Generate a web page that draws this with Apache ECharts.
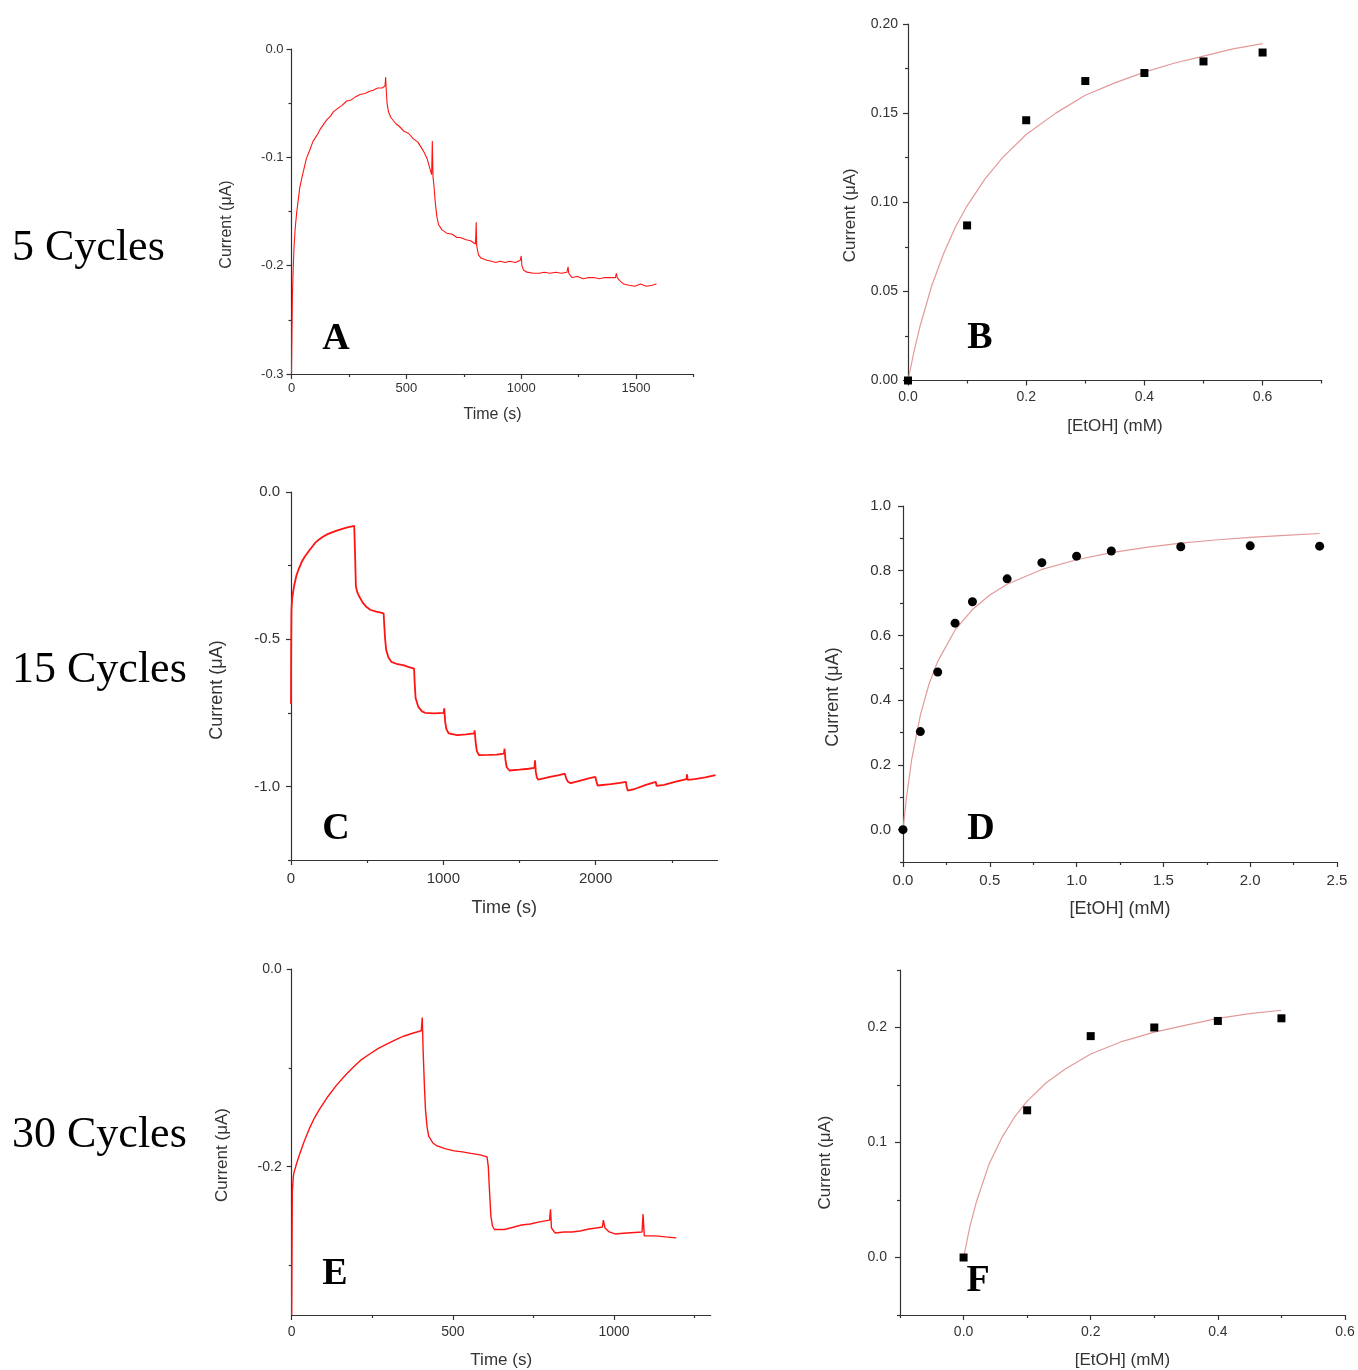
<!DOCTYPE html>
<html>
<head>
<meta charset="utf-8">
<script src="https://cdn.jsdelivr.net/npm/echarts@6/dist/echarts.min.js"></script>
<style>
  html, body { margin: 0; padding: 0; background: #fff; }
  #chart { width: 1358px; height: 1370px; }
</style>
</head>
<body>
<div id="chart"></div>
<script>
// ---- data ----
// A: 5 cycles, amperometric trace [time (s), current (uA)]
const traceA = [
  [0, -0.300], [2, -0.262], [4, -0.228], [7, -0.205], [11, -0.183], [16, -0.166], [22, -0.152],
  [29, -0.140], [36, -0.128], [45, -0.119], [55, -0.110], [65, -0.101], [80, -0.093], [94, -0.085],
  [110, -0.080], [125, -0.074], [138, -0.070], [155, -0.065], [170, -0.062], [182, -0.058],
  [200, -0.055], [220, -0.052], [240, -0.048], [260, -0.047], [280, -0.044], [298, -0.042],
  [320, -0.041], [340, -0.039], [356, -0.038], [375, -0.036], [395, -0.036], [407, -0.034],
  [410, -0.026], [412, -0.036], [416, -0.050], [422, -0.058], [432, -0.063], [443, -0.066],
  [455, -0.069], [472, -0.072], [490, -0.076], [510, -0.078], [531, -0.083], [550, -0.086],
  [574, -0.094], [590, -0.101], [606, -0.113], [610, -0.116], [613, -0.085], [616, -0.118],
  [620, -0.126], [626, -0.142], [633, -0.155], [640, -0.162], [655, -0.167], [676, -0.170],
  [700, -0.171], [720, -0.174], [734, -0.174], [760, -0.176], [780, -0.177], [801, -0.180],
  [804, -0.160], [806, -0.181], [810, -0.186], [814, -0.190], [825, -0.193], [850, -0.195],
  [870, -0.196], [890, -0.197], [908, -0.196], [930, -0.197], [950, -0.196], [975, -0.197],
  [996, -0.195], [1000, -0.191], [1003, -0.200], [1010, -0.204], [1025, -0.206], [1054, -0.207],
  [1080, -0.207], [1100, -0.206], [1126, -0.207], [1150, -0.206], [1175, -0.207], [1199, -0.206],
  [1204, -0.201], [1207, -0.207], [1221, -0.211], [1245, -0.210], [1270, -0.212], [1295, -0.211],
  [1315, -0.211], [1340, -0.212], [1365, -0.211], [1390, -0.211], [1410, -0.211], [1414, -0.207],
  [1418, -0.211], [1430, -0.214], [1446, -0.217], [1470, -0.218], [1495, -0.219], [1519, -0.217],
  [1545, -0.219], [1570, -0.218], [1589, -0.217]
];
// B: calibration, 5 cycles
const concB = [0, 0.1, 0.2, 0.3, 0.4, 0.5, 0.6];
const currB = [0, 0.087, 0.146, 0.168, 0.1725, 0.179, 0.184];
const fitConcB = [0, 0.01, 0.02, 0.04, 0.06, 0.08, 0.1, 0.13, 0.16, 0.2, 0.25, 0.3, 0.35, 0.4, 0.45, 0.5, 0.55, 0.6];
const fitCurrB = [0, 0.016, 0.030, 0.053, 0.071, 0.086, 0.098, 0.113, 0.125, 0.138, 0.150, 0.160, 0.167, 0.173, 0.178, 0.182, 0.186, 0.189];

// C: 15 cycles trace
const traceC = [
  [0, -0.72], [1, -0.55], [3, -0.40], [8, -0.36], [20, -0.32], [35, -0.285], [49, -0.264], [70, -0.238],
  [90, -0.22], [115, -0.202], [140, -0.185], [160, -0.172], [182, -0.162], [210, -0.152], [240, -0.143],
  [270, -0.137], [300, -0.131], [337, -0.125], [370, -0.12], [400, -0.117], [415, -0.115], [420, -0.2],
  [426, -0.32], [435, -0.34], [448, -0.355], [470, -0.375], [492, -0.389], [520, -0.4], [559, -0.406],
  [590, -0.41], [608, -0.412], [612, -0.45], [618, -0.5], [625, -0.537], [640, -0.562], [659, -0.577],
  [700, -0.585], [736, -0.588], [770, -0.594], [808, -0.6], [812, -0.65], [818, -0.7], [836, -0.73],
  [860, -0.745], [880, -0.75], [940, -0.752], [1002, -0.75], [1006, -0.735], [1012, -0.78], [1020, -0.805],
  [1035, -0.82], [1091, -0.826], [1150, -0.823], [1202, -0.82], [1206, -0.81], [1212, -0.85], [1220, -0.88],
  [1235, -0.894], [1300, -0.893], [1350, -0.892], [1398, -0.889], [1402, -0.872], [1408, -0.91],
  [1416, -0.935], [1434, -0.946], [1500, -0.943], [1560, -0.94], [1598, -0.937], [1602, -0.911],
  [1607, -0.95], [1614, -0.97], [1623, -0.977], [1700, -0.968], [1760, -0.962], [1798, -0.957],
  [1802, -0.951], [1808, -0.975], [1820, -0.985], [1836, -0.989], [1900, -0.98], [1960, -0.972],
  [1998, -0.968], [2002, -0.965], [2006, -0.985], [2013, -0.997], [2100, -0.992], [2160, -0.988],
  [2199, -0.985], [2203, -1.0], [2211, -1.014], [2260, -1.008], [2330, -0.995], [2395, -0.985],
  [2400, -0.998], [2405, -1.002], [2450, -0.995], [2520, -0.985], [2596, -0.975], [2600, -0.959],
  [2604, -0.978], [2650, -0.975], [2720, -0.969], [2787, -0.962]
];
// D: calibration, 15 cycles
const concD = [0, 0.1, 0.2, 0.3, 0.4, 0.6, 0.8, 1.0, 1.2, 1.6, 2.0, 2.4];
const currD = [0, 0.303, 0.487, 0.638, 0.704, 0.775, 0.825, 0.845, 0.861, 0.874, 0.877, 0.876];
const fitConcD = [0, 0.02, 0.05, 0.1, 0.15, 0.2, 0.3, 0.4, 0.5, 0.6, 0.8, 1.0, 1.2, 1.4, 1.6, 1.8, 2.0, 2.2, 2.4];
const fitCurrD = [0, 0.099, 0.216, 0.354, 0.450, 0.520, 0.617, 0.680, 0.725, 0.758, 0.804, 0.834, 0.856, 0.872, 0.885, 0.895, 0.903, 0.909, 0.915];

// E: 30 cycles trace
const traceE = [
  [0, -0.35], [1, -0.28], [2, -0.225], [5, -0.21], [7, -0.206], [15, -0.197], [23, -0.189], [38, -0.175],
  [54, -0.162], [70, -0.151], [86, -0.142], [110, -0.130], [138, -0.118], [165, -0.108], [190, -0.0997],
  [215, -0.092], [242, -0.086], [270, -0.080], [295, -0.076], [320, -0.072], [347, -0.068], [375, -0.065],
  [402, -0.0625], [405, -0.049], [408, -0.085], [412, -0.12], [415, -0.142], [420, -0.16], [425, -0.169],
  [438, -0.176], [451, -0.179], [478, -0.182], [504, -0.184], [530, -0.185], [556, -0.1865], [585, -0.188],
  [606, -0.19], [610, -0.2], [613, -0.22], [618, -0.25], [623, -0.26], [629, -0.2635], [660, -0.2635],
  [690, -0.261], [713, -0.259], [740, -0.258], [765, -0.256], [800, -0.254], [803, -0.243], [806, -0.262],
  [817, -0.267], [845, -0.266], [869, -0.266], [895, -0.265], [922, -0.263], [945, -0.262], [964, -0.261],
  [967, -0.254], [972, -0.262], [985, -0.266], [1003, -0.268], [1040, -0.267], [1087, -0.266],
  [1090, -0.248], [1094, -0.27], [1110, -0.27], [1129, -0.27], [1160, -0.271], [1193, -0.272]
];
// F: calibration, 30 cycles
const concF = [0, 0.1, 0.2, 0.3, 0.4, 0.5];
const currF = [0, 0.128, 0.1925, 0.2, 0.2057, 0.208];
const fitConcF = [0, 0.01, 0.02, 0.04, 0.06, 0.08, 0.1, 0.13, 0.16, 0.2, 0.25, 0.3, 0.35, 0.4, 0.45, 0.5];
const fitCurrF = [0, 0.027, 0.048, 0.081, 0.104, 0.122, 0.136, 0.152, 0.164, 0.177, 0.188, 0.196, 0.202, 0.208, 0.212, 0.215];

// tick labels (major) and minor tick positions
const timeTicksA = [0, 500, 1000, 1500], timeMinorA = [250, 750, 1250, 1750];
const currTicksA = [0, -0.1, -0.2, -0.3], currMinorA = [-0.05, -0.15, -0.25];
const concTicksB = [0, 0.2, 0.4, 0.6], concMinorB = [0.1, 0.3, 0.5, 0.7];
const currTicksB = [0, 0.05, 0.1, 0.15, 0.2], currMinorB = [0.025, 0.075, 0.125, 0.175];
const timeTicksC = [0, 1000, 2000], timeMinorC = [500, 1500, 2500];
const currTicksC = [0, -0.5, -1.0], currMinorC = [-0.25, -0.75, -1.25];
const concTicksD = [0, 0.5, 1.0, 1.5, 2.0, 2.5], concMinorD = [0.25, 0.75, 1.25, 1.75, 2.25];
const currTicksD = [0, 0.2, 0.4, 0.6, 0.8, 1.0], currMinorD = [-0.1, 0.1, 0.3, 0.5, 0.7, 0.9];
const timeTicksE = [0, 500, 1000], timeMinorE = [250, 750, 1250];
const currTicksE = [0, -0.2], currMinorE = [-0.1, -0.3];
const concTicksF = [0, 0.2, 0.4, 0.6], concMinorF = [-0.1, 0.1, 0.3, 0.5];
const currTicksF = [0, 0.1, 0.2], currMinorF = [-0.05, 0.05, 0.15, 0.25];

const rowLabels = ['5 Cycles', '15 Cycles', '30 Cycles'];
const panelLetters = ['A', 'B', 'C', 'D', 'E', 'F'];

// ---- layout ----
const axisColor = '#333';
const red = '#ff1414';
const fitColor = '#e39a9a';
const sans = 'Liberation Sans';

// x/y: [min, max, major ticks, minor ticks, decimals, title]
const panels = [
  { grid: [291.5, 49, 402, 325], x: [0, 1750, timeTicksA, timeMinorA, 0, 'Time (s)'], y: [-0.3, 0, currTicksA, currMinorA, 1, 'Current (\u03bcA)'],
    fs: 13, nfs: 16, xm: 8, ym: 8, xg: 33, yg: 57, yshift: 26 },
  { grid: [908, 24, 413.7, 356.5], x: [0, 0.7, concTicksB, concMinorB, 1, '[EtOH] (mM)'], y: [0, 0.2, currTicksB, currMinorB, 2, 'Current (\u03bcA)'],
    fs: 14, nfs: 17, xm: 10, ym: 10, xg: 37, yg: 49, yshift: 26 },
  { grid: [291, 492, 426.5, 368], x: [0, 2800, timeTicksC, timeMinorC, 0, 'Time (s)'], y: [-1.25, 0, currTicksC, currMinorC, 1, 'Current (\u03bcA)'],
    fs: 15, nfs: 18, xm: 11, ym: 11, xg: 39, yg: 65, yshift: 28 },
  { grid: [903, 506, 434, 356], x: [0, 2.5, concTicksD, concMinorD, 1, '[EtOH] (mM)'], y: [-0.1, 1.0, currTicksD, currMinorD, 1, 'Current (\u03bcA)'],
    fs: 15, nfs: 18, xm: 11, ym: 12, xg: 38, yg: 61, yshift: 26 },
  { grid: [291.7, 969, 419, 346], x: [0, 1300, timeTicksE, timeMinorE, 0, 'Time (s)'], y: [-0.35, 0, currTicksE, currMinorE, 1, 'Current (\u03bcA)'],
    fs: 14, nfs: 17, xm: 10, ym: 10, xg: 37, yg: 61, yshift: 26 },
  { grid: [900, 970, 445, 345], x: [-0.1, 0.6, concTicksF, concMinorF, 1, '[EtOH] (mM)'], y: [-0.05, 0.25, currTicksF, currMinorF, 1, 'Current (\u03bcA)'],
    fs: 14, nfs: 17, xm: 10, ym: 13, xg: 37, yg: 66, yshift: 40 }
];

const grids = [], xAxes = [], yAxes = [];

function mainAxis(dim, gi, a, p) {
  const [min, max, ticks, , dec, name] = a;
  return {
    type: 'value', gridIndex: gi, min: min, max: max,
    position: dim === 'x' ? 'bottom' : 'left',
    axisLine: { show: true, onZero: false, lineStyle: { color: axisColor, width: 1.2 } },
    axisTick: { show: true, length: 5, customValues: ticks, lineStyle: { color: axisColor, width: 1.2 } },
    axisLabel: {
      customValues: ticks, fontSize: p.fs, color: '#333', fontFamily: sans,
      margin: dim === 'x' ? p.xm : p.ym,
      formatter: v => Number(v).toFixed(dec)
    },
    splitLine: { show: false },
    name: name, nameLocation: 'middle', nameGap: dim === 'x' ? p.xg : p.yg,
    nameRotate: dim === 'y' ? 90 : 0,
    nameTextStyle: {
      fontSize: p.nfs, color: '#333', fontFamily: sans,
      padding: dim === 'y' ? [0, p.yshift, 0, 0] : 0
    }
  };
}

function minorAxis(dim, gi, a) {
  return {
    type: 'value', gridIndex: gi, min: a[0], max: a[1],
    position: dim === 'x' ? 'bottom' : 'left',
    axisLine: { show: false, onZero: false },
    axisTick: { show: true, length: 3, customValues: a[3], lineStyle: { color: axisColor, width: 1.2 } },
    axisLabel: { show: false },
    splitLine: { show: false }
  };
}

panels.forEach((p, i) => {
  grids.push({ left: p.grid[0], top: p.grid[1], width: p.grid[2], height: p.grid[3], containLabel: false, outerBoundsMode: 'none' });
  xAxes.push(mainAxis('x', i, p.x, p), minorAxis('x', i, p.x));
  yAxes.push(mainAxis('y', i, p.y, p), minorAxis('y', i, p.y));
});

function zip(xs, ys) { return xs.map((x, k) => [x, ys[k]]); }

function lineSeries(i, data, color, width) {
  return {
    type: 'line', xAxisIndex: 2 * i, yAxisIndex: 2 * i, data: data,
    showSymbol: false, symbol: 'none', lineStyle: { color: color, width: width }, silent: true
  };
}
function dotSeries(i, data, symbol, size) {
  return {
    type: 'scatter', xAxisIndex: 2 * i, yAxisIndex: 2 * i, data: data,
    symbol: symbol, symbolSize: size, itemStyle: { color: '#000', opacity: 1 }, silent: true, z: 3
  };
}

const series = [
  lineSeries(0, traceA, red, 1.1),
  lineSeries(1, zip(fitConcB, fitCurrB), fitColor, 1.2),
  dotSeries(1, zip(concB, currB), 'rect', 8),
  lineSeries(2, traceC, red, 1.8),
  lineSeries(3, zip(fitConcD, fitCurrD), fitColor, 1.2),
  dotSeries(3, zip(concD, currD), 'circle', 9),
  lineSeries(4, traceE, red, 1.4),
  lineSeries(5, zip(fitConcF, fitCurrF), fitColor, 1.2),
  dotSeries(5, zip(concF, currF), 'rect', 8)
];

// row labels and panel letters
const rowY = [252, 674, 1139];
const letterPos = [[336, 339], [980, 338], [336, 829], [981, 829], [335, 1274], [978, 1281]];
const graphics = [];
rowLabels.forEach((t, k) => {
  graphics.push({
    type: 'text', left: 12, top: rowY[k] - 26, silent: true,
    style: { text: t, font: '44px "Liberation Serif"', fill: '#000' }
  });
});
panelLetters.forEach((t, k) => {
  graphics.push({
    type: 'text', x: letterPos[k][0], y: letterPos[k][1], silent: true,
    style: { text: t, font: 'bold 38px "Liberation Serif"', fill: '#000',
      align: 'center', verticalAlign: 'middle', textAlign: 'center', textVerticalAlign: 'middle' }
  });
});

const chart = echarts.init(document.getElementById('chart'), null, { renderer: 'canvas' });
chart.setOption({
  backgroundColor: '#fff',
  animation: false,
  grid: grids,
  xAxis: xAxes,
  yAxis: yAxes,
  series: series,
  graphic: graphics
});
</script>
</body>
</html>
